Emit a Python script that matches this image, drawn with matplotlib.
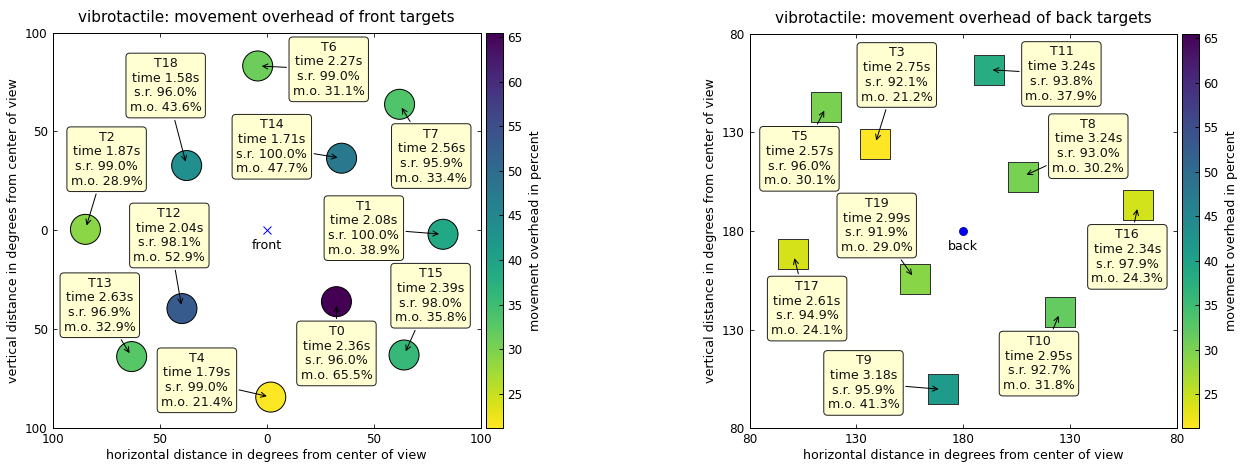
import matplotlib
matplotlib.use("Agg")
import matplotlib.pyplot as plt
from matplotlib.colors import Normalize
from matplotlib.cm import ScalarMappable
from matplotlib.ticker import FixedLocator, FuncFormatter

# ---------------- data ----------------
front_names = ["T0", "T1", "T2", "T4", "T6", "T7", "T12", "T13", "T14", "T15", "T18"]
front_time = [2.36, 2.08, 1.87, 1.79, 2.27, 2.56, 2.04, 2.63, 1.71, 2.39, 1.58]
front_sr = [96.0, 100.0, 99.0, 99.0, 99.0, 95.9, 98.1, 96.9, 100.0, 98.0, 96.0]
front_mo = [65.5, 38.9, 28.9, 21.4, 31.1, 33.4, 52.9, 32.9, 47.7, 35.8, 43.6]
front_x = [32.6, 82.4, -84.7, 1.9, -4.2, 62.1, -39.6, -63.1, 35.0, 64.2, -37.4]
front_y = [-36.2, -2.1, 0.4, -84.5, 83.1, 63.7, -39.7, -64.0, 36.4, -63.2, 32.7]

back_names = ["T3", "T5", "T8", "T9", "T10", "T11", "T16", "T17", "T19"]
back_time = [2.75, 2.57, 3.24, 3.18, 2.95, 3.24, 2.34, 2.61, 2.99]
back_sr = [92.1, 96.0, 93.0, 95.9, 92.7, 93.8, 97.9, 94.9, 91.9]
back_mo = [21.2, 30.1, 30.2, 41.3, 31.8, 37.9, 24.3, 24.1, 29.0]
back_x = [138.7, 115.8, 207.9, 170.4, 225.4, 191.9, 261.9, 100.5, 157.2]
back_y = [223.9, 242.8, 207.6, 99.7, 138.9, 261.8, 193.1, 168.2, 155.9]

front_ticks = [-100, -50, 0, 50, 100]
back_ticks = [80, 130, 180, 230, 280]
cbar_ticks = [25, 30, 35, 40, 45, 50, 55, 60, 65]

# label box centres (layout)
front_lbl_x = [32.6, 45.4, -74.8, -32.6, 29.0, 76.9, -45.5, -78.0, 2.4, 76.6, -47.2]
front_lbl_y = [-62.4, 1.0, 35.9, -76.0, 81.4, 37.5, -2.7, -38.0, 42.2, -33.2, 73.2]
back_lbl_x = [148.9, 103.3, 238.6, 133.3, 215.5, 226.0, 256.9, 106.9, 139.5]
back_lbl_y = [259.1, 216.6, 223.0, 103.0, 112.8, 259.6, 166.9, 140.7, 182.8]

# ---------------- style ----------------
DPI = 72
FS = 12.6
plt.rcParams.update({
    "font.family": ["DejaVu Sans"],
    "font.size": 12,
    "xtick.direction": "in",
    "ytick.direction": "in",
    "xtick.top": True,
    "ytick.right": True,
    "xtick.major.size": 4,
    "ytick.major.size": 4,
    "xtick.major.pad": 5,
    "ytick.major.pad": 5,
    "axes.linewidth": 1.0,
})

fig = plt.figure(figsize=(1247 / DPI, 468 / DPI), dpi=DPI)
ax1 = fig.add_axes([0.04226, 0.0861, 0.3432, 0.8443])
cax1 = fig.add_axes([0.3900, 0.0861, 0.01363, 0.8443])
ax2 = fig.add_axes([0.6012, 0.0848, 0.3424, 0.8431])
cax2 = fig.add_axes([0.9481, 0.0848, 0.01363, 0.8431])

vmin = min(front_mo + back_mo)
vmax = max(front_mo + back_mo)
norm = Normalize(vmin=vmin, vmax=vmax)
cmap = plt.get_cmap("viridis_r")

box = dict(boxstyle="round,pad=0.3", fc="#ffffd2", ec="#222222", lw=1.0)
arrow = dict(arrowstyle="->", color="black", lw=1.0, shrinkA=2, shrinkB=4)


def label_text(n, t, s, m):
    return f"{n}\ntime {t:.2f}s\ns.r. {s:.1f}%\nm.o. {m:.1f}%"


def draw_panel(ax, cax, names, times, srs, mos, xs, ys, lx, ly, marker, edge,
               lims, ticks, center, fmt, title, cmark, cname):
    ax.scatter(xs, ys, c=mos, cmap=cmap, norm=norm, s=900, marker=marker,
               edgecolors=edge, linewidths=1.0, zorder=2)
    for n, t, s, m, x, y, tx, ty in zip(names, times, srs, mos, xs, ys, lx, ly):
        ax.annotate(label_text(n, t, s, m), xy=(x, y), xytext=(tx, ty),
                    textcoords="data", ha="center", va="center",
                    multialignment="center", linespacing=1.17, bbox=box,
                    arrowprops=arrow, fontsize=FS, color="#111111", zorder=3)
    if cmark == "x":
        ax.plot([center], [center], "x", color="blue", ms=8, mew=1.0, zorder=2)
    else:
        ax.plot([center], [center], "o", color="blue", ms=8, mec="#000080",
                mew=0.8, zorder=2)
    ax.annotate(cname, xy=(center, center), xytext=(0, -15.5),
                textcoords="offset points", ha="center", va="center", fontsize=FS)
    ax.set_xlim(lims)
    ax.set_ylim(lims)
    ax.xaxis.set_major_locator(FixedLocator(ticks))
    ax.yaxis.set_major_locator(FixedLocator(ticks))
    ax.xaxis.set_major_formatter(FuncFormatter(fmt))
    ax.yaxis.set_major_formatter(FuncFormatter(fmt))
    ax.set_xlabel("horizontal distance in degrees from center of view",
                  fontsize=FS, labelpad=3)
    ax.set_ylabel("vertical distance in degrees from center of view",
                  fontsize=FS, labelpad=5)
    ax.set_title(title, fontsize=15.2, pad=11)

    sm = ScalarMappable(norm=norm, cmap=cmap)
    cb = fig.colorbar(sm, cax=cax)
    cb.set_ticks(cbar_ticks)
    cb.ax.tick_params(direction="in", length=4, width=1, right=True, left=False, pad=4)
    cb.outline.set_linewidth(1.0)
    cb.set_label("movement overhead in percent", fontsize=FS, labelpad=7)


draw_panel(ax1, cax1, front_names, front_time, front_sr, front_mo, front_x, front_y,
           front_lbl_x, front_lbl_y, "o", "black", (-100, 100), front_ticks, 0,
           lambda v, p: f"{abs(v):g}",
           "vibrotactile: movement overhead of front targets", "x", "front")
draw_panel(ax2, cax2, back_names, back_time, back_sr, back_mo, back_x, back_y,
           back_lbl_x, back_lbl_y, "s", "#333333", (80, 280), back_ticks, 180,
           lambda v, p: f"{180 - abs(v - 180):g}",
           "vibrotactile: movement overhead of back targets", "o", "back")

fig.savefig("out.png", dpi=DPI)
